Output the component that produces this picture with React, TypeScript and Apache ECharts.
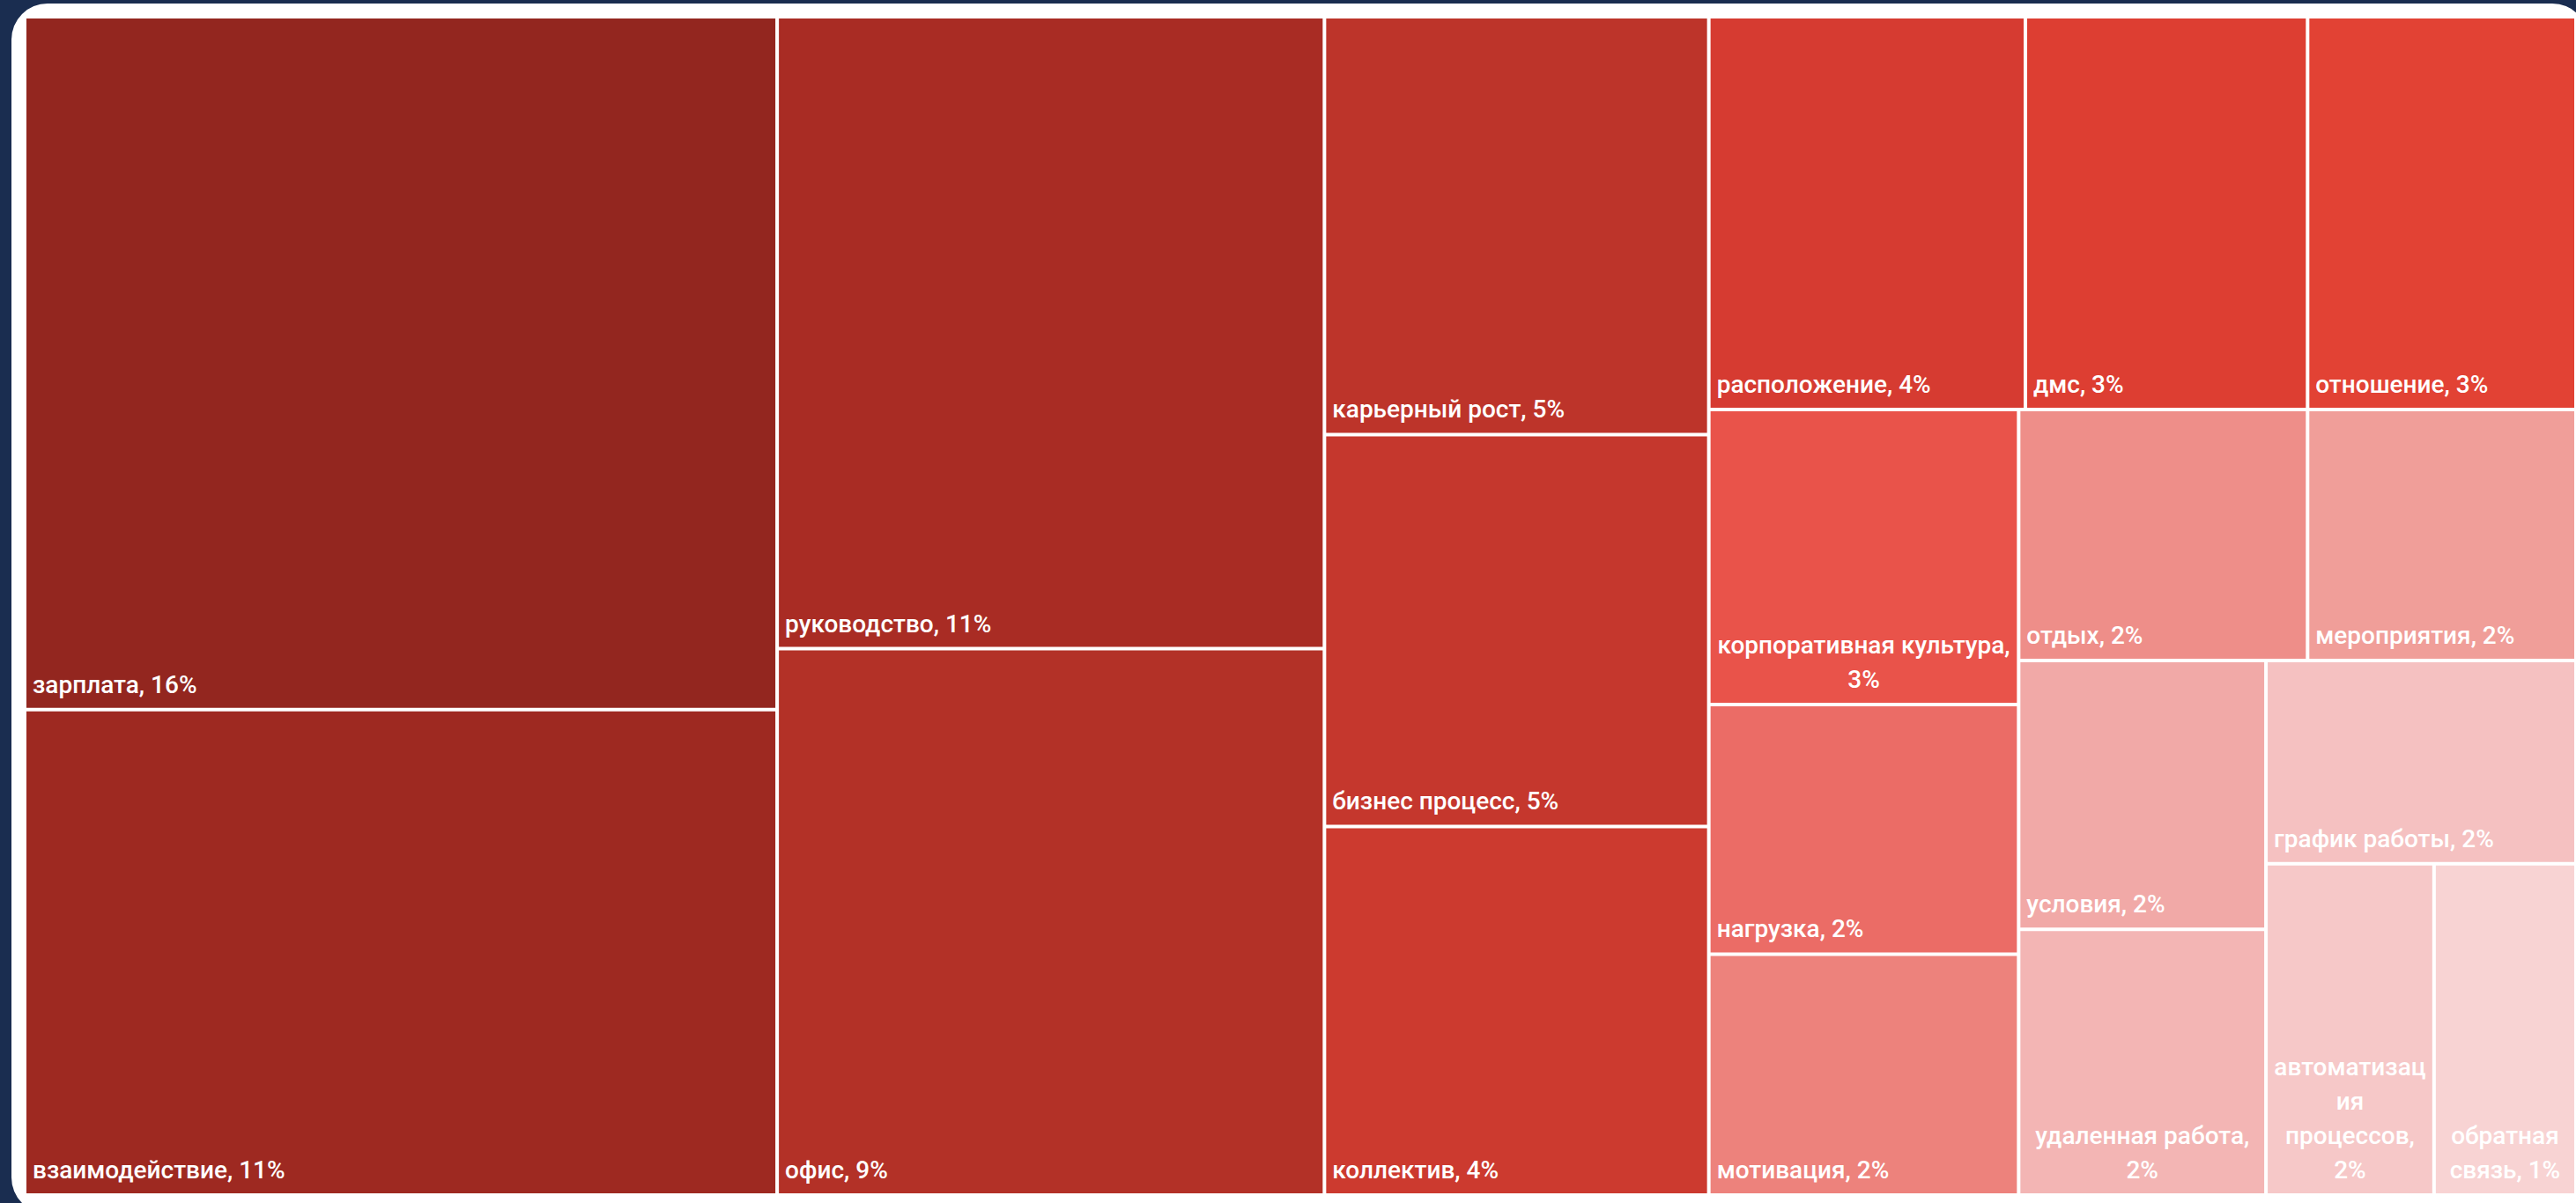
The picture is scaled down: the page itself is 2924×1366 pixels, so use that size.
import React, { useEffect, useRef } from "react";
import * as echarts from "echarts";

// Categories in the order of the reference (largest first)
const categories = [
  "зарплата",
  "взаимодействие",
  "руководство",
  "офис",
  "карьерный рост",
  "бизнес процесс",
  "коллектив",
  "расположение",
  "дмс",
  "отношение",
  "корпоративная культура",
  "нагрузка",
  "мотивация",
  "отдых",
  "мероприятия",
  "условия",
  "удаленная работа",
  "график работы",
  "автоматизация процессов",
  "обратная связь",
];

// Relative weights
const values = [
  192.8, 135.1, 127.9, 110.6, 59.4, 55.7, 52.4, 46.0, 41.0, 39.0,
  33.8, 28.6, 27.6, 26.8, 24.9, 24.6, 24.3, 23.3, 20.6, 17.4,
];

// Percentages printed in the labels
const percents = [16, 11, 11, 9, 5, 5, 4, 4, 3, 3, 3, 2, 2, 2, 2, 2, 2, 2, 2, 1];

const colors = [
  "#93261f", "#9e2921", "#a92c24", "#b33127", "#bd342a",
  "#c5372d", "#cc3a2f", "#d63b31", "#dd3e32", "#e24234",
  "#e9534a", "#eb6c66", "#ed827c", "#ee8e89", "#f09e99",
  "#f1a9a7", "#f3b5b4", "#f5c1c1", "#f6c8c8", "#f8d3d3",
];

// Labels that wrap inside narrow cells, with the line breaks of the reference
const wrappedLabels: Record<string, string[]> = {
  "корпоративная культура": ["корпоративная культура,", "3%"],
  "удаленная работа": ["удаленная работа,", "2%"],
  "автоматизация процессов": ["автоматизац", "ия", "процессов,", "2%"],
  "обратная связь": ["обратная", "связь, 1%"],
};

export default function App() {
  const ref = useRef<HTMLDivElement>(null);

  useEffect(() => {
    if (!ref.current) return;
    const chart = echarts.init(ref.current, null, { renderer: "svg" });

    const data = categories.map((name, i) => {
      const item: any = {
        name,
        value: values[i],
        itemStyle: { color: colors[i] },
      };
      if (wrappedLabels[name]) {
        item.label = { position: "insideBottom" };
      }
      return item;
    });

    chart.setOption({
      animation: false,
      tooltip: { show: false },
      series: [
        {
          type: "treemap",
          left: 30,
          top: 21,
          width: 2892,
          height: 1334,
          roam: false,
          nodeClick: false,
          squareRatio: 1.25,
          breadcrumb: { show: false },
          itemStyle: { borderWidth: 0, gapWidth: 4, borderColor: "#fff" },
          label: {
            show: true,
            position: "insideBottomLeft",
            distance: 7,
            padding: 0,
            color: "#ffffff",
            fontFamily: "Roboto",
            fontWeight: 500,
            fontSize: 28,
            lineHeight: 39,
            overflow: "none",
            formatter: (p: any) => {
              const idx = categories.indexOf(p.name);
              if (wrappedLabels[p.name]) return wrappedLabels[p.name].join("\n");
              return `${p.name}, ${percents[idx]}%`;
            },
          },
          emphasis: { disabled: true },
          data,
        },
      ],
    });

    return () => chart.dispose();
  }, []);

  return (
    <div
      style={{
        position: "fixed",
        left: 0,
        top: 0,
        width: 2924,
        height: 1366,
        background: "#1a2d50",
        overflow: "hidden",
      }}
    >
      <div
        style={{
          position: "absolute",
          left: 13,
          top: 4,
          width: 2925,
          height: 1374,
          background: "#ffffff",
          borderRadius: 41,
        }}
      />
      <div
        ref={ref}
        style={{ position: "absolute", left: 0, top: 0, width: 2924, height: 1366 }}
      />
    </div>
  );
}
